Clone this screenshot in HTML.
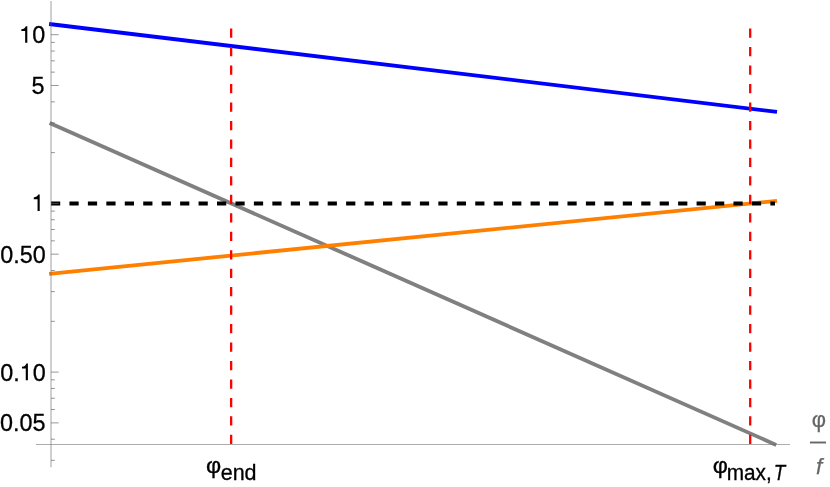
<!DOCTYPE html>
<html lang="en"><head><meta charset="utf-8"><title>plot</title>
<style>html,body{margin:0;padding:0;background:#fff;}body{width:830px;height:487px;overflow:hidden;font-family:"Liberation Sans",sans-serif;}</style>
</head><body>
<svg width="830" height="487" viewBox="0 0 830 487" style="display:block;will-change:transform">
<rect width="830" height="487" fill="#fff"/>
<line x1="49.1" y1="24.0" x2="777" y2="111.9" stroke="#0000ff" stroke-width="3.85"/>
<line x1="49.6" y1="122.9" x2="776.2" y2="444.9" stroke="#808080" stroke-width="3.85"/>
<line x1="49.1" y1="273.85" x2="777" y2="200.85" stroke="#ff8000" stroke-width="3.85"/>
<line x1="51" y1="203.52" x2="775" y2="203.52" stroke="#000" stroke-width="4.0" stroke-dasharray="9.22 9.225"/>
<line x1="231.15" y1="28.6" x2="231.15" y2="444.2" stroke="#ff0000" stroke-width="2.3" stroke-dasharray="9.24 9.225"/>
<line x1="750.2" y1="28.6" x2="750.2" y2="444.2" stroke="#ff0000" stroke-width="2.3" stroke-dasharray="9.24 9.225"/>
<line x1="51.0" y1="1.0" x2="51.0" y2="467.3" stroke="#666" stroke-width="0.62"/>
<line x1="36" y1="444.5" x2="790" y2="444.5" stroke="#666" stroke-width="0.55"/>
<line x1="51.0" y1="34.70" x2="58.7" y2="34.70" stroke="#666" stroke-width="0.68"/>
<line x1="51.0" y1="85.48" x2="58.7" y2="85.48" stroke="#666" stroke-width="0.68"/>
<line x1="51.0" y1="203.40" x2="58.7" y2="203.40" stroke="#666" stroke-width="0.68"/>
<line x1="51.0" y1="254.18" x2="58.7" y2="254.18" stroke="#666" stroke-width="0.68"/>
<line x1="51.0" y1="372.10" x2="58.7" y2="372.10" stroke="#666" stroke-width="0.68"/>
<line x1="51.0" y1="422.88" x2="58.7" y2="422.88" stroke="#666" stroke-width="0.68"/>
<line x1="51.0" y1="42.42" x2="54.9" y2="42.42" stroke="#666" stroke-width="0.68"/>
<line x1="51.0" y1="51.05" x2="54.9" y2="51.05" stroke="#666" stroke-width="0.68"/>
<line x1="51.0" y1="60.83" x2="54.9" y2="60.83" stroke="#666" stroke-width="0.68"/>
<line x1="51.0" y1="72.13" x2="54.9" y2="72.13" stroke="#666" stroke-width="0.68"/>
<line x1="51.0" y1="101.83" x2="54.9" y2="101.83" stroke="#666" stroke-width="0.68"/>
<line x1="51.0" y1="122.91" x2="54.9" y2="122.91" stroke="#666" stroke-width="0.68"/>
<line x1="51.0" y1="152.62" x2="54.9" y2="152.62" stroke="#666" stroke-width="0.68"/>
<line x1="51.0" y1="211.12" x2="54.9" y2="211.12" stroke="#666" stroke-width="0.68"/>
<line x1="51.0" y1="219.75" x2="54.9" y2="219.75" stroke="#666" stroke-width="0.68"/>
<line x1="51.0" y1="229.53" x2="54.9" y2="229.53" stroke="#666" stroke-width="0.68"/>
<line x1="51.0" y1="240.83" x2="54.9" y2="240.83" stroke="#666" stroke-width="0.68"/>
<line x1="51.0" y1="270.53" x2="54.9" y2="270.53" stroke="#666" stroke-width="0.68"/>
<line x1="51.0" y1="291.61" x2="54.9" y2="291.61" stroke="#666" stroke-width="0.68"/>
<line x1="51.0" y1="321.32" x2="54.9" y2="321.32" stroke="#666" stroke-width="0.68"/>
<line x1="51.0" y1="379.82" x2="54.9" y2="379.82" stroke="#666" stroke-width="0.68"/>
<line x1="51.0" y1="388.45" x2="54.9" y2="388.45" stroke="#666" stroke-width="0.68"/>
<line x1="51.0" y1="398.23" x2="54.9" y2="398.23" stroke="#666" stroke-width="0.68"/>
<line x1="51.0" y1="409.53" x2="54.9" y2="409.53" stroke="#666" stroke-width="0.68"/>
<line x1="51.0" y1="439.23" x2="54.9" y2="439.23" stroke="#666" stroke-width="0.68"/>
<line x1="51.0" y1="460.31" x2="54.9" y2="460.31" stroke="#666" stroke-width="0.68"/>
<g font-family="Liberation Sans, sans-serif" font-size="24.3" fill="#000" stroke="#000" stroke-width="0.3">
<text transform="translate(32.16 42.80) scale(0.962 1)">0</text>
<path stroke="none" d="M25.16,42.80 V30.95 H21.36 V29.20 C23.61,29.00 24.96,28.30 25.86,26.20 H27.31 V42.80 Z"/>
<text transform="translate(31.56 93.65) scale(0.962 1)">5</text>
<path stroke="none" d="M37.55,211.00 V199.15 H33.75 V197.40 C36.00,197.20 37.35,196.50 38.25,194.60 H39.70 V211.00 Z"/>
<text transform="translate(32.76 262.50) scale(0.962 1)">0</text>
<text transform="translate(19.76 262.50) scale(0.962 1)">5</text>
<text transform="translate(13.26 262.50) scale(0.962 1)">.</text>
<text transform="translate(0.26 262.50) scale(0.962 1)">0</text>
<text transform="translate(32.76 380.65) scale(0.962 1)">0</text>
<path stroke="none" d="M25.76,380.25 V368.40 H21.96 V366.65 C24.21,366.45 25.56,365.75 26.46,363.40 H27.91 V380.25 Z"/>
<text transform="translate(13.26 380.65) scale(0.962 1)">.</text>
<text transform="translate(0.26 380.65) scale(0.962 1)">0</text>
<text transform="translate(32.51 431.15) scale(0.962 1)">5</text>
<text transform="translate(19.51 431.15) scale(0.962 1)">0</text>
<text transform="translate(13.01 431.15) scale(0.962 1)">.</text>
<text transform="translate(0.01 431.15) scale(0.962 1)">0</text>
</g>
<g font-family="Liberation Sans, sans-serif" fill="#000" stroke="#000" stroke-width="0.3">
<text transform="translate(206.1 473.4) scale(1.04 1)" font-size="22.5">φ</text>
<text x="220.7" y="480" font-size="21.5">end</text>
<text transform="translate(712.8 473.1) scale(1.04 1)" font-size="22.5">φ</text>
<text transform="translate(726.8 479.8) scale(0.975 1)" font-size="21.3">max,</text>
<text transform="translate(773.7 479.8) scale(0.87 1)" font-size="21.6" font-style="italic">T</text>
</g>
<g font-family="Liberation Sans, sans-serif" fill="#666" stroke="#666" stroke-width="0.25">
<text x="811.8" y="427.1" font-size="22">φ</text>
<rect x="810" y="441.55" width="16" height="1.9" fill="#666" stroke="none"/>
<text x="815.9" y="474" font-size="22.4" font-style="italic">f</text>
</g>
</svg>
</body></html>
